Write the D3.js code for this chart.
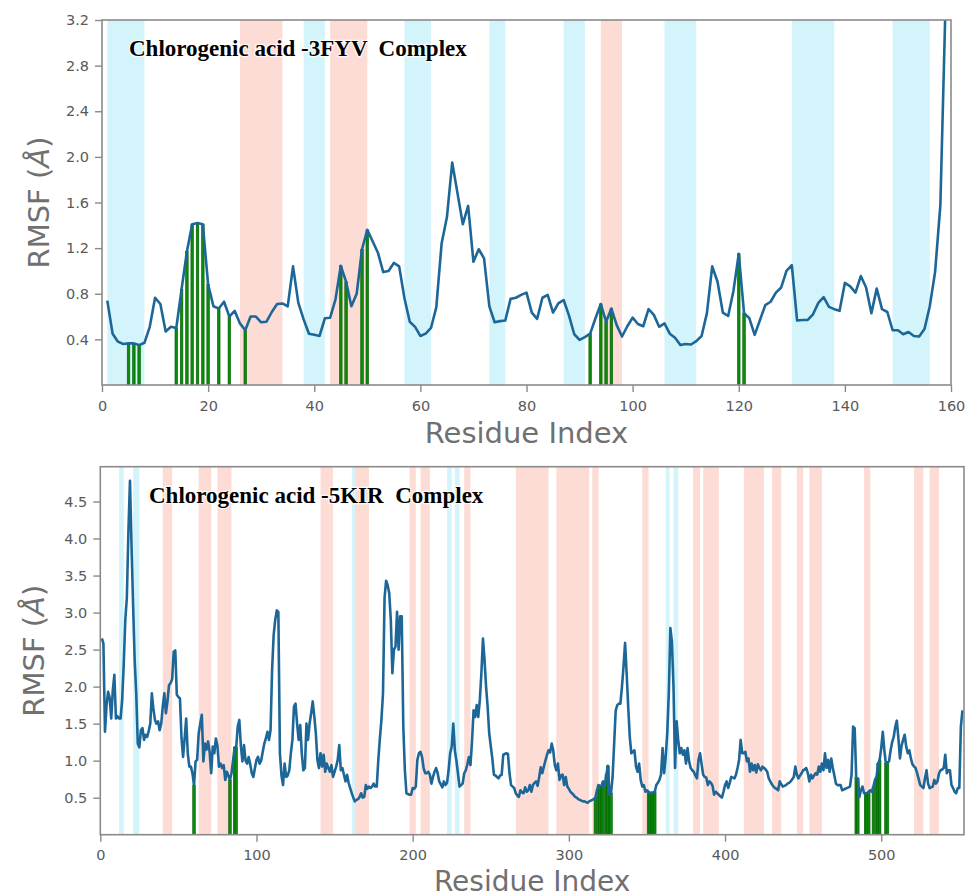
<!DOCTYPE html>
<html><head><meta charset="utf-8">
<script src="https://cdn.jsdelivr.net/npm/d3@7"></script>
<style>body{margin:0;background:#fff}</style>
</head><body>
<svg id="chart" width="965" height="896"></svg>
<script>
// ---------- Panel 1: Chlorogenic acid - 3FYV (residues 1..159) ----------
const rmsfTop = [
0.74,0.45,0.38,0.36,0.365,0.365,0.35,0.37,0.51,0.765,
0.71,0.47,0.51,0.5,0.84,1.17,1.41,1.42,1.41,0.88,
0.69,0.67,0.73,0.6,0.65,0.54,0.48,0.6,0.6,0.55,
0.555,0.64,0.71,0.715,0.69,1.04,0.72,0.575,0.45,0.44,
0.43,0.585,0.59,0.75,1.045,0.905,0.69,0.8,1.19,1.36,
1.26,1.16,0.99,1.0,1.07,1.04,0.76,0.555,0.51,0.43,
0.45,0.5,0.68,1.24,1.47,1.95,1.68,1.41,1.57,1.08,
1.19,1.11,0.69,0.55,0.56,0.565,0.755,0.765,0.79,0.81,
0.635,0.58,0.765,0.79,0.635,0.715,0.745,0.61,0.445,0.395,
0.42,0.45,0.585,0.71,0.555,0.67,0.525,0.425,0.515,0.59,
0.535,0.515,0.665,0.615,0.51,0.54,0.45,0.415,0.35,0.36,
0.355,0.385,0.43,0.63,1.04,0.905,0.635,0.605,0.825,1.15,
0.63,0.585,0.44,0.57,0.7,0.73,0.81,0.855,1.0,1.05,
0.565,0.57,0.57,0.62,0.72,0.77,0.685,0.665,0.65,0.895,
0.865,0.81,0.955,0.855,0.63,0.845,0.665,0.64,0.48,0.48,
0.445,0.465,0.43,0.425,0.49,0.69,0.99,1.58,3.4
];
const contactsTop = [5,6,7,14,15,16,17,18,19,20,22,24,27,45,46,49,50,92,94,95,96,120,121];
const strandsTop = [[1,8],[38,42],[57,62],[73,76],[87,91],[106,112],[130,138],[149,156]];
const helicesTop = [[26,34],[43,50],[94,98]];
const xTicksTop = [0,20,40,60,80,100,120,140,160];
const yTicksTop = [0.4,0.8,1.2,1.6,2.0,2.4,2.8,3.2];
const titleTop = "Chlorogenic acid -3FYV  Complex";

// ---------- Panel 2: Chlorogenic acid - 5KIR (residues 1..552) ----------
const rmsfBottom = [
2.65,2.58,1.39,1.75,1.93,1.85,1.57,1.95,2.16,1.57,
1.6,1.57,1.57,1.82,2.3,2.9,3.2,4.1,4.78,3.9,
3.1,2.36,1.91,1.23,1.18,1.41,1.44,1.28,1.35,1.32,
1.4,1.5,1.91,1.7,1.55,1.5,1.53,1.41,1.5,1.73,
1.91,1.64,1.8,2.02,2.05,2.1,2.47,2.49,1.89,1.86,
1.84,1.3,1.05,1.3,1.57,1.1,0.92,0.92,0.83,0.67,
0.99,1.01,1.37,1.5,1.62,0.99,1.23,1.15,1.26,1.12,
0.83,1.19,1.1,1.3,1.2,0.92,0.96,0.9,0.94,0.74,
0.85,0.8,0.74,0.83,1.0,1.18,1.18,1.46,1.55,1.2,
0.99,1.21,1.0,0.96,1.05,0.95,0.83,0.78,0.9,1.01,
1.05,0.96,1.0,1.12,1.23,1.3,1.39,1.28,1.41,2.23,
2.7,2.9,3.03,3.01,1.1,0.8,0.67,0.96,0.78,0.8,
0.87,1.1,1.28,1.73,1.77,1.5,1.28,1.48,1.1,0.87,
0.9,1.5,1.28,1.5,1.64,1.8,1.6,1.37,1.01,0.9,
1.1,0.92,1.08,0.85,0.96,0.9,0.85,0.94,0.78,0.85,
0.92,1.01,1.21,0.87,0.9,0.81,0.72,0.81,0.7,0.63,
0.56,0.5,0.45,0.47,0.48,0.51,0.56,0.5,0.51,0.67,
0.62,0.65,0.63,0.65,0.69,0.65,0.65,1.01,1.3,1.55,
1.91,3.2,3.43,3.37,3.26,2.9,2.18,2.5,2.54,3.01,
2.5,2.95,2.95,1.46,0.87,0.56,0.55,0.54,0.54,0.63,
0.62,0.65,1.01,1.1,1.12,1.05,0.9,0.83,0.83,0.85,
0.81,0.69,0.78,0.85,0.9,0.83,0.72,0.68,0.64,0.72,
0.67,0.7,0.87,1.1,1.19,1.5,1.14,1.0,0.83,0.65,
0.67,0.69,0.83,0.87,0.95,1.05,0.94,1.26,1.68,1.59,
1.75,1.59,1.82,2.18,2.65,2.36,2.0,1.73,1.37,1.2,
1.03,0.81,0.8,0.78,0.76,0.8,0.81,1.08,1.09,1.1,
1.09,0.83,0.67,0.65,0.63,0.56,0.53,0.51,0.6,0.57,
0.56,0.64,0.58,0.6,0.67,0.58,0.67,0.7,0.72,0.66,
0.78,0.91,0.83,0.92,1.0,1.08,1.14,1.11,1.23,1.14,
0.94,0.87,0.96,0.74,0.8,0.81,0.67,0.78,0.65,0.62,
0.58,0.56,0.54,0.51,0.5,0.48,0.47,0.46,0.45,0.45,
0.44,0.43,0.45,0.46,0.47,0.48,0.5,0.6,0.67,0.66,
0.66,0.72,0.65,0.81,0.93,0.54,0.56,0.78,1.23,1.68,
1.75,1.77,1.77,2.0,2.27,2.59,2.18,1.73,1.32,1.1,
1.12,1.14,0.92,0.85,0.96,0.74,0.65,0.67,0.58,0.6,
0.58,0.56,0.57,0.57,0.58,0.67,0.7,0.74,0.81,1.17,
0.83,1.05,1.37,1.91,2.79,2.6,2.0,0.9,1.53,1.28,
1.1,1.17,1.08,1.14,0.96,1.17,0.99,0.9,0.87,0.85,
0.8,0.76,1.01,1.1,0.95,0.81,0.78,0.77,0.67,0.72,
0.7,0.66,0.54,0.58,0.56,0.54,0.52,0.5,0.58,0.67,
0.72,0.63,0.7,0.78,0.77,0.76,0.81,0.9,1.01,1.28,
1.1,1.1,1.12,0.99,1.03,0.85,0.96,0.87,0.94,0.84,
0.95,0.9,0.87,0.92,0.9,0.88,0.85,0.76,0.72,0.68,
0.65,0.63,0.62,0.6,0.72,0.68,0.65,0.66,0.67,0.69,
0.7,0.72,0.75,0.78,0.92,0.81,0.76,0.8,0.83,0.87,
0.88,0.9,0.83,0.72,0.81,0.76,0.8,0.83,0.81,0.92,
0.85,0.96,0.87,1.1,0.9,1.01,0.85,1.03,0.9,0.8,
0.69,0.67,0.67,0.67,0.6,0.61,0.62,0.63,0.64,0.65,
0.81,1.46,1.44,0.77,0.76,0.51,0.6,0.65,0.56,0.56,
0.56,0.58,0.6,0.58,0.65,0.74,0.78,0.96,1.01,1.17,
1.39,1.14,0.96,0.98,0.99,1.14,1.25,1.32,1.46,1.54,
1.3,1.03,1.2,1.28,1.35,1.19,1.1,1.14,1.03,0.95,
0.92,0.9,0.83,0.75,0.67,0.65,0.63,0.76,0.87,0.69,
0.63,0.64,0.65,0.74,0.69,0.72,0.83,0.87,0.88,0.9,
1.08,0.83,0.87,0.87,0.67,0.63,0.58,0.56,0.63,0.63,
1.46,1.68
];
const contactsBottom = [60,83,86,87,317,319,320,321,322,324,325,326,327,351,352,353,354,355,484,485,490,491,492,495,497,498,499,503,504];
const strandsBottom = [[12,15],[21,25],[161,163],[222,225],[227,230],[362,364.5],[367,370]];
const helicesBottom = [[40,46],[63,71],[75,84],[141,149],[163,172],[198,202],[205,211],[233,237],[266,287],[292,313],[315,319],[347,351],[379.5,384],[386,396],[412,425],[430,436],[446,450],[454,462],[489,493],[521,527],[531,537]];
const xTicksBottom = [0,100,200,300,400,500];
const yTicksBottom = [0.5,1.0,1.5,2.0,2.5,3.0,3.5,4.0,4.5];
const titleBottom = "Chlorogenic acid -5KIR  Complex";

const svg = d3.select("#chart");
const COL_LINE = "#1d6798", COL_STRAND = "#d4f4fb", COL_HELIX = "#fddcd6";
const COL_BAR = "#0c8a0c", COL_SPINE = "#8a8a8a", COL_TICKTXT = "#5a5a5a", COL_LABEL = "#707070";

function panel(o, idx){
  const x = d3.scaleLinear().domain(o.xDomain).range([o.left, o.right]);
  const y = d3.scaleLinear().domain(o.yDomain).range([o.bottom, o.top]);
  const g = svg.append("g");
  const cid = "clip" + idx;
  svg.append("clipPath").attr("id", cid).append("rect")
    .attr("x", o.left).attr("y", o.top).attr("width", o.right - o.left).attr("height", o.bottom - o.top);
  const plot = g.append("g").attr("clip-path", `url(#${cid})`);

  plot.selectAll(".strand").data(o.strands).join("rect")
    .attr("x", d => x(d[0])).attr("width", d => x(d[1]) - x(d[0]))
    .attr("y", o.top).attr("height", o.bottom - o.top).attr("fill", COL_STRAND);
  plot.selectAll(".helix").data(o.helices).join("rect")
    .attr("x", d => x(d[0])).attr("width", d => x(d[1]) - x(d[0]))
    .attr("y", o.top).attr("height", o.bottom - o.top).attr("fill", COL_HELIX);

  const bw = 2.6;
  plot.selectAll(".bar").data(o.contacts).join("rect")
    .attr("x", d => x(d) - bw/2).attr("width", bw)
    .attr("y", d => y(o.values[d-1])).attr("height", d => y(0) - y(o.values[d-1]))
    .attr("fill", COL_BAR).attr("stroke", "#006000").attr("stroke-width", 0.6);

  const line = d3.line().x((d,i) => x(i+1)).y(d => y(d));
  plot.append("path").datum(o.values).attr("d", line)
    .attr("fill", "none").attr("stroke", COL_LINE).attr("stroke-width", 2.6)
    .attr("stroke-linejoin", "round");

  // axes
  const ax = g.append("g").attr("transform", `translate(0,${o.bottom})`)
    .call(d3.axisBottom(x).tickValues(o.xTicks).tickSize(7).tickPadding(o.xPad).tickFormat(d3.format("d")));
  const ay = g.append("g").attr("transform", `translate(${o.left},0)`)
    .call(d3.axisLeft(y).tickValues(o.yTicks).tickSize(7).tickPadding(6).tickFormat(d3.format(".1f")));
  [ax, ay].forEach(a => {
    a.select(".domain").remove();
    a.selectAll(".tick line").attr("stroke", COL_SPINE).attr("stroke-width", 1.4);
    a.selectAll(".tick text").attr("fill", COL_TICKTXT)
      .style("font-family", "DejaVu Sans").style("font-size", "14.5px");
  });

  g.append("rect").attr("x", o.left).attr("y", o.top)
    .attr("width", o.right - o.left).attr("height", o.bottom - o.top)
    .attr("fill", "none").attr("stroke", COL_SPINE).attr("stroke-width", 1.6);

  // title
  g.append("text").attr("x", o.titleX).attr("y", o.titleY)
    .attr("xml:space", "preserve").style("white-space", "pre")
    .style("font-family", "'Liberation Serif','Times New Roman',serif")
    .style("font-weight", "bold").style("font-size", "23px")
    .attr("fill", "#000").attr("stroke", "#fff").attr("stroke-width", 2.5)
    .attr("paint-order", "stroke").attr("stroke-opacity", 0.8)
    .text(o.title);

  // axis labels
  g.append("text").attr("x", (o.left + o.right)/2).attr("y", o.xLabelY)
    .attr("text-anchor", "middle").attr("fill", COL_LABEL)
    .style("font-family", "DejaVu Sans").style("font-size", o.xLabelSize)
    .text("Residue Index");
  const yl = g.append("text")
    .attr("transform", `translate(${o.yLabelX},${(o.top + o.bottom)/2}) rotate(-90)`)
    .attr("text-anchor", "middle").attr("fill", COL_LABEL)
    .style("font-family", "DejaVu Sans").style("font-size", "29px");
  yl.append("tspan").text("RMSF (");
  yl.append("tspan").style("font-style", "italic").text("Å");
  yl.append("tspan").text(")");
}

panel({
  values: rmsfTop, contacts: contactsTop, strands: strandsTop, helices: helicesTop,
  xTicks: xTicksTop, yTicks: yTicksTop, xDomain: [0, 160], yDomain: [0, 3.2],
  left: 102, right: 951, top: 20, bottom: 385, xPad: 9,
  title: titleTop, titleX: 129, titleY: 56, xLabelY: 443, xLabelSize: "29px", yLabelX: 49
}, 0);

panel({
  values: rmsfBottom, contacts: contactsBottom, strands: strandsBottom, helices: helicesBottom,
  xTicks: xTicksBottom, yTicks: yTicksBottom, xDomain: [0, 553], yDomain: [0, 4.97],
  left: 100.3, right: 964, top: 466.7, bottom: 834.7, xPad: 8,
  title: titleBottom, titleX: 149, titleY: 503, xLabelY: 890.5, xLabelSize: "28px", yLabelX: 44
}, 1);
</script>
</body></html>
